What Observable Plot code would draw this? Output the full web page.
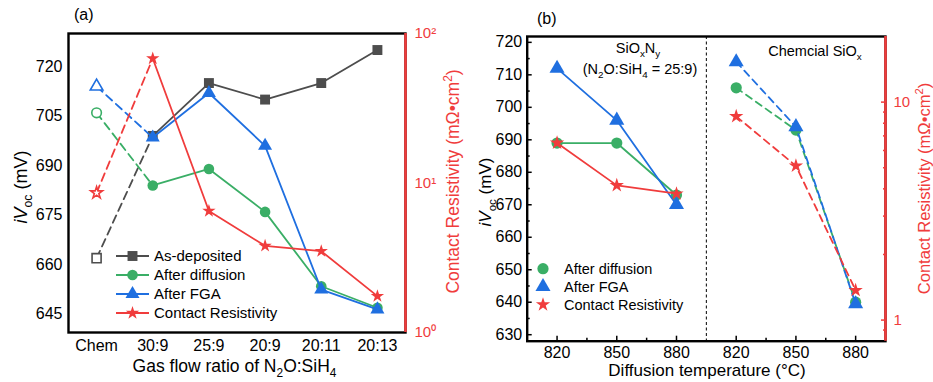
<!DOCTYPE html>
<html><head><meta charset="utf-8">
<script src="https://cdn.jsdelivr.net/npm/d3@7"></script>
<script src="https://cdn.jsdelivr.net/npm/@observablehq/plot@0.6"></script>
<style>
body{margin:0;background:#fff;}
#wrap{position:relative;width:933px;height:382px;overflow:hidden;font-family:"Liberation Sans",Arial,sans-serif;}
#wrap svg{position:absolute;top:0;}
</style></head><body><div id="wrap"></div>
<script>
// ---------- data: panel (a) ----------
const gasRatios = ["Chem", "30:9", "25:9", "20:9", "20:11", "20:13"];
const asDeposited = [662, 699, 715, 710, 715, 725];
const afterDiffusionA = [706, 684, 689, 676, 653.5, 647];
const afterFGAA = [714, 698.5, 712, 696, 652.5, 646.5];
const contactResA = [8.6, 68, 6.5, 3.8, 3.5, 1.75];
const ivocTicksA = [645, 660, 675, 690, 705, 720];
const crTicksA = [1, 10, 100];
const crTickLabelsA = ["10⁰", "10¹", "10²"];

// ---------- data: panel (b) ----------
const tempLabels = ["820", "850", "880", "820", "850", "880"];
const afterDiffusionB = [689, 689, 673, 706, 693, 640];
const afterFGAB = [712, 696, 670, 714, 694, 639.5];
const contactResB = [6.5, 4.15, 3.8, 8.6, 5.1, 1.37];
const ivocTicksB = [630, 640, 650, 660, 670, 680, 690, 700, 710, 720];
const ivocMinorB = [635, 645, 655, 665, 675, 685, 695, 705, 715];
const crTicksB = [1, 10];
const crMinorB = [0.9, 2, 3, 4, 5, 6, 7, 8, 9];

const FONT = '"Liberation Sans", Arial, sans-serif';
const GRAY = "#4d4d4d", GREEN = "#3aae66", BLUE = "#1f6fe0", RED = "#f03c3c";
const wrap = d3.select("#wrap");
const style = {fontFamily: FONT, fontSize: "16px", background: "transparent", overflow: "visible", color: "black"};

function place(svg, left) { svg.style.left = left + "px"; wrap.node().appendChild(svg); return d3.select(svg); }

function rich(sel, parts, size) {
  let shift = 0;
  for (const [t, k] of parts) {
    const ts = sel.append("tspan").text(t);
    const target = k === "sub" ? size * 0.3 : k === "sup" ? -size * 0.4 : 0;
    if (target - shift !== 0) ts.attr("dy", target - shift);
    shift = target;
    if (k === "sub" || k === "sup") ts.attr("font-size", size * 0.68);
    if (k === "i") ts.attr("font-style", "italic");
  }
}
function addText(svg, {x, y, rotate = 0, anchor = "middle", size = 16, fill = "black", parts}) {
  const t = svg.append("text").attr("transform", `translate(${x},${y}) rotate(${rotate})`)
    .attr("text-anchor", anchor).attr("font-size", size).attr("fill", fill).attr("font-family", FONT);
  rich(t, parts, size);
}
function sym(svg, type, r, cx, cy, color) {
  const map = {square: d3.symbolSquare, circle: d3.symbolCircle, triangle: d3.symbolTriangle, star: d3.symbolStar};
  svg.append("path").attr("d", d3.symbol(map[type], Math.PI * r * r)()).attr("transform", `translate(${cx},${cy})`).attr("fill", color);
}
function legendText(svg, x, y, size, txt) {
  svg.append("text").attr("x", x).attr("y", y).attr("dy", "0.35em").attr("text-anchor", "start")
    .attr("font-size", size).attr("font-family", FONT).attr("fill", "black").text(txt);
}

// ================= Panel (a) =================
const rowsA = gasRatios.map((g, i) => ({i, g, asDep: asDeposited[i], diff: afterDiffusionA[i], fga: afterFGAA[i], cr: contactResA[i]}));
const seriesA = [
  {key: "asDep", name: "As-deposited", color: GRAY, symbol: "square", r: 5.6},
  {key: "diff", name: "After diffusion", color: GREEN, symbol: "circle", r: 5.3},
  {key: "fga", name: "After FGA", color: BLUE, symbol: "triangle", r: 5.2}
];
const crA = {key: "cr", name: "Contact Resistivity", color: RED, symbol: "star", r: 4.2};
function marksA(s) {
  return [
    Plot.line(rowsA.slice(0, 2), {x: "i", y: s.key, stroke: s.color, strokeWidth: 1.8, strokeDasharray: "8,5"}),
    Plot.line(rowsA.slice(1), {x: "i", y: s.key, stroke: s.color, strokeWidth: 1.8}),
    Plot.dot(rowsA.slice(0, 1), {x: "i", y: s.key, symbol: s.symbol, r: s.r - 0.5, fill: "white", stroke: s.color, strokeWidth: 1.6}),
    Plot.dot(rowsA.slice(1), {x: "i", y: s.key, symbol: s.symbol, r: s.r, fill: s.color})
  ];
}
const dimA = {width: 466, height: 382, marginLeft: 68, marginRight: 61, marginTop: 33, marginBottom: 50};
const a1 = Plot.plot({
  ...dimA, style,
  x: {domain: [-0.5, 5.5]},
  y: {domain: [639.5, 730]},
  marks: [
    Plot.frame({stroke: "black", strokeWidth: 2.4}),
    Plot.axisX({ticks: [0, 1, 2, 3, 4, 5], tickFormat: d => gasRatios[d], tickSize: 0, tickPadding: 7, label: null, fontSize: 16}),
    Plot.axisY({ticks: ivocTicksA, tickSize: 0, tickPadding: 6, label: null, fontSize: 16}),
    ...marksA(seriesA[0]), ...marksA(seriesA[1]), ...marksA(seriesA[2])
  ]
});
place(a1, 0);
const a2 = Plot.plot({
  ...dimA, style,
  x: {domain: [-0.5, 5.5], axis: null},
  y: {type: "log", domain: [1, 100]},
  marks: [
    Plot.ruleX([5.5], {stroke: RED, strokeWidth: 2.6}),
    Plot.axisY({anchor: "right", ticks: crTicksA, tickFormat: d => crTickLabelsA[crTicksA.indexOf(d)], tickSize: 0, tickPadding: 9, label: null, color: RED, fontSize: 15}),
    ...marksA(crA)
  ]
});
const A = place(a2, 0);
addText(A, {x: 74, y: 20, anchor: "start", size: 16, parts: [["(a)", ""]]});
addText(A, {x: 26.5, y: 187, rotate: -90, size: 18, parts: [["iV", "i"], ["oc", "sub"], [" (mV)", ""]]});
addText(A, {x: 459, y: 181.5, rotate: -90, size: 17.5, fill: RED, parts: [["Contact Resistivity (mΩ•cm", ""], ["2", "sup"], [")", ""]]});
addText(A, {x: 234.5, y: 371.5, size: 17.5, parts: [["Gas flow ratio of N", ""], ["2", "sub"], ["O:SiH", ""], ["4", "sub"]]});
[...seriesA, crA].forEach((s, k) => {
  const y = 256 + k * 19;
  A.append("line").attr("x1", 116).attr("x2", 149).attr("y1", y).attr("y2", y).attr("stroke", s.color).attr("stroke-width", 1.8);
  sym(A, s.symbol, s.r, 132.5, y, s.color);
  legendText(A, 154, y, 15, s.name);
});

// ================= Panel (b) =================
const rowsB = tempLabels.map((t, i) => ({i: i + 1, t, diff: afterDiffusionB[i], fga: afterFGAB[i], cr: contactResB[i]}));
const seriesB = [
  {key: "diff", name: "After diffusion", color: GREEN, symbol: "circle", r: 5.6},
  {key: "fga", name: "After FGA", color: BLUE, symbol: "triangle", r: 5.6}
];
const crB = {key: "cr", name: "Contact Resistivity", color: RED, symbol: "star", r: 4.5};
function marksB(s) {
  return [
    Plot.line(rowsB.slice(0, 3), {x: "i", y: s.key, stroke: s.color, strokeWidth: 1.8}),
    Plot.line(rowsB.slice(3), {x: "i", y: s.key, stroke: s.color, strokeWidth: 1.8, strokeDasharray: "7,5"}),
    Plot.dot(rowsB, {x: "i", y: s.key, symbol: s.symbol, r: s.r, fill: s.color})
  ];
}
const dimB = {width: 467, height: 382, marginLeft: 60.7, marginRight: 48, marginTop: 36, marginBottom: 41.3};
const b1 = Plot.plot({
  ...dimB, style,
  x: {domain: [0.5, 6.5]},
  y: {domain: [628, 721.8]},
  marks: [
    Plot.frame({stroke: "black", strokeWidth: 2.4}),
    Plot.ruleX([3.5], {stroke: "black", strokeWidth: 1, strokeDasharray: "3,2.5"}),
    Plot.axisX({ticks: [1, 2, 3, 4, 5, 6], tickFormat: d => tempLabels[d - 1], tickSize: -5, tickPadding: 10, strokeWidth: 1.5, label: null, fontSize: 16}),
    Plot.axisX({ticks: [1.5, 2.5, 4.5, 5.5], tickFormat: () => "", tickSize: -3, strokeWidth: 1.5, label: null}),
    Plot.axisY({ticks: ivocTicksB, tickSize: -5, tickPadding: 10, strokeWidth: 1.5, label: null, fontSize: 16}),
    Plot.axisY({ticks: ivocMinorB, tickFormat: () => "", tickSize: -3, strokeWidth: 1.5, label: null}),
    ...marksB(seriesB[0]), ...marksB(seriesB[1])
  ]
});
place(b1, 466);
const b2 = Plot.plot({
  ...dimB, style,
  x: {domain: [0.5, 6.5], axis: null},
  y: {type: "log", domain: [0.8, 20]},
  marks: [
    Plot.ruleX([6.5], {stroke: RED, strokeWidth: 2.6}),
    Plot.axisY({anchor: "right", ticks: crTicksB, tickFormat: d => String(d), tickSize: -5, tickPadding: 13, strokeWidth: 1.5, label: null, color: RED, fontSize: 15}),
    Plot.axisY({anchor: "right", ticks: crMinorB, tickFormat: () => "", tickSize: -3, strokeWidth: 1.5, label: null, color: RED}),
    ...marksB(crB)
  ]
});
const B = place(b2, 466);
addText(B, {x: 537 - 466, y: 24, anchor: "start", size: 16, parts: [["(b)", ""]]});
addText(B, {x: 491 - 466, y: 192, rotate: -90, size: 17, parts: [["iV", "i"], ["oc", "sub"], [" (mV)", ""]]});
addText(B, {x: 930 - 466, y: 188.5, rotate: -90, size: 16.5, fill: RED, parts: [["Contact Resistivity (mΩ•cm", ""], ["2", "sup"], [")", ""]]});
addText(B, {x: 707 - 466, y: 376, size: 17, parts: [["Diffusion temperature (°C)", ""]]});
addText(B, {x: 638 - 466, y: 53, size: 14.5, parts: [["SiO", ""], ["x", "sub"], ["N", ""], ["y", "sub"]]});
addText(B, {x: 640 - 466, y: 74, size: 14.5, parts: [["(N", ""], ["2", "sub"], ["O:SiH", ""], ["4", "sub"], [" = 25:9)", ""]]});
addText(B, {x: 815 - 466, y: 55.5, size: 14.5, parts: [["Chemcial SiO", ""], ["x", "sub"]]});
[...seriesB, crB].forEach((s, k) => {
  const y = 268.7 + k * 18;
  sym(B, s.symbol, s.r, 543 - 466, y, s.color);
  legendText(B, 564 - 466, y, 14.5, s.name);
});
</script></body></html>
